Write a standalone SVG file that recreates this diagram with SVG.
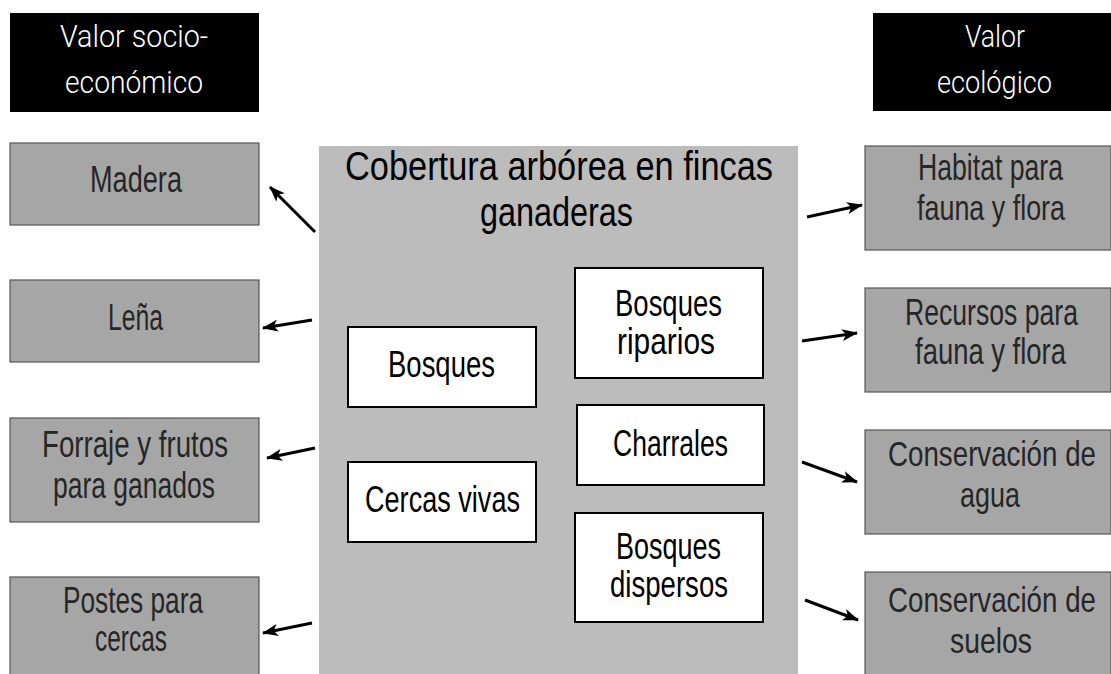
<svg xmlns="http://www.w3.org/2000/svg" width="1111" height="674" viewBox="0 0 1111 674">
<style>
text{text-anchor:middle}
.hdr{fill:#000}
.hdrt{fill:#fff;font-family:Roboto,"Liberation Sans",sans-serif;font-weight:300;font-size:31px}
.side{fill:#a6a6a6;stroke:#555;stroke-width:1.2}
.sidet{fill:#262626;font-family:"Liberation Sans",Arial,sans-serif;font-size:36px}
.main{fill:#bcbcbc}
.maint{fill:#000;font-family:"Liberation Sans",Arial,sans-serif;font-size:40px}
.wbox{fill:#fff;stroke:#000;stroke-width:2}
.wt{fill:#000;font-family:"Liberation Sans",Arial,sans-serif;font-size:37px}
.arr{stroke:#000;stroke-width:3;fill:none;marker-end:url(#ah)}
</style>
<defs>
<marker id="ah" viewBox="0 0 16 12" refX="15" refY="6" markerWidth="16" markerHeight="12" markerUnits="userSpaceOnUse" orient="auto">
<path d="M0,0 L16,6 L0,12 L4,6 z" fill="#000"/>
</marker>
</defs>
<rect width="1111" height="674" fill="#fff"/>

<g id="hdr-socio">
<rect class="hdr" x="10" y="13" width="249" height="99"/>
<text class="hdrt" x="134" y="47" textLength="148" lengthAdjust="spacingAndGlyphs">Valor socio-</text>
<text class="hdrt" x="134" y="93" textLength="138" lengthAdjust="spacingAndGlyphs">económico</text>
</g>
<g id="hdr-eco">
<rect class="hdr" x="873" y="13" width="238" height="98"/>
<text class="hdrt" x="995" y="47" textLength="60" lengthAdjust="spacingAndGlyphs">Valor</text>
<text class="hdrt" x="994.5" y="93" textLength="115" lengthAdjust="spacingAndGlyphs">ecológico</text>
</g>

<g id="madera">
<rect class="side" x="10" y="143" width="249" height="82"/>
<text class="sidet" x="136" y="192" textLength="92" lengthAdjust="spacingAndGlyphs">Madera</text>
</g>
<g id="lena">
<rect class="side" x="10" y="280" width="249" height="82"/>
<text class="sidet" x="135.5" y="330" textLength="55" lengthAdjust="spacingAndGlyphs">Leña</text>
</g>
<g id="forraje">
<rect class="side" x="10" y="418" width="249" height="104"/>
<text class="sidet" x="135" y="457" textLength="186" lengthAdjust="spacingAndGlyphs">Forraje y frutos</text>
<text class="sidet" x="134" y="498" textLength="162" lengthAdjust="spacingAndGlyphs">para ganados</text>
</g>
<g id="postes">
<rect class="side" x="10" y="577" width="249" height="100"/>
<text class="sidet" x="133" y="613" textLength="140" lengthAdjust="spacingAndGlyphs">Postes para</text>
<text class="sidet" x="131" y="651" textLength="72" lengthAdjust="spacingAndGlyphs">cercas</text>
</g>

<g id="cobertura">
<rect class="main" x="319" y="146" width="479" height="530"/>
<text class="maint" x="559" y="180" textLength="428" lengthAdjust="spacingAndGlyphs">Cobertura arbórea en fincas</text>
<text class="maint" x="556.5" y="226" textLength="153" lengthAdjust="spacingAndGlyphs">ganaderas</text>
</g>
<g id="bosques">
<rect class="wbox" x="348" y="327" width="188" height="80"/>
<text class="wt" x="441.5" y="377" textLength="107" lengthAdjust="spacingAndGlyphs">Bosques</text>
</g>
<g id="riparios">
<rect class="wbox" x="575" y="268" width="188" height="110"/>
<text class="wt" x="668.5" y="316" textLength="107" lengthAdjust="spacingAndGlyphs">Bosques</text>
<text class="wt" x="666" y="354" textLength="98" lengthAdjust="spacingAndGlyphs">riparios</text>
</g>
<g id="charrales">
<rect class="wbox" x="577" y="405" width="187" height="80"/>
<text class="wt" x="670.5" y="456" textLength="115" lengthAdjust="spacingAndGlyphs">Charrales</text>
</g>
<g id="cercas">
<rect class="wbox" x="348" y="462" width="188" height="80"/>
<text class="wt" x="442.5" y="512" textLength="155" lengthAdjust="spacingAndGlyphs">Cercas vivas</text>
</g>
<g id="dispersos">
<rect class="wbox" x="575" y="513" width="188" height="109"/>
<text class="wt" x="668.5" y="559" textLength="105" lengthAdjust="spacingAndGlyphs">Bosques</text>
<text class="wt" x="669" y="597" textLength="118" lengthAdjust="spacingAndGlyphs">dispersos</text>
</g>

<g id="habitat">
<rect class="side" x="865" y="146" width="246" height="104"/>
<text class="sidet" transform="translate(990.5,180) scale(0.739,1)">Habitat para</text>
<text class="sidet" transform="translate(991,220) scale(0.747,1)">fauna y flora</text>
</g>
<g id="recursos">
<rect class="side" x="865" y="288" width="246" height="104"/>
<text class="sidet" transform="translate(991.5,325) scale(0.739,1)">Recursos para</text>
<text class="sidet" transform="translate(990.5,364) scale(0.762,1)">fauna y flora</text>
</g>
<g id="agua">
<rect class="side" x="865" y="430" width="246" height="104"/>
<text class="sidet" transform="translate(992,466) scale(0.77,1)">Conservación de</text>
<text class="sidet" transform="translate(990,507) scale(0.749,1)">agua</text>
</g>
<g id="suelos">
<rect class="side" x="865" y="572" width="246" height="105"/>
<text class="sidet" transform="translate(992,612) scale(0.77,1)">Conservación de</text>
<text class="sidet" transform="translate(991,653) scale(0.788,1)">suelos</text>
</g>

<g id="connectors">
<line class="arr" x1="315" y1="232" x2="270" y2="187"/>
<line class="arr" x1="312" y1="320" x2="263" y2="328"/>
<line class="arr" x1="315" y1="448" x2="267" y2="458"/>
<line class="arr" x1="312" y1="623" x2="263" y2="633"/>
<line class="arr" x1="807" y1="217" x2="862" y2="205"/>
<line class="arr" x1="802" y1="341" x2="857" y2="333"/>
<line class="arr" x1="802" y1="462" x2="857" y2="482"/>
<line class="arr" x1="805" y1="600" x2="858" y2="620"/>
</g>
</svg>
